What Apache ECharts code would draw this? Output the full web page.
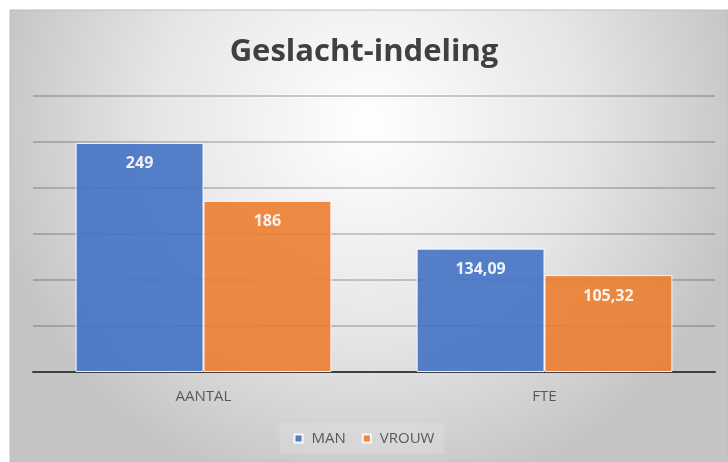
<!DOCTYPE html>
<html>
<head>
<meta charset="utf-8">
<script src="https://cdn.jsdelivr.net/npm/echarts@6/dist/echarts.min.js"></script>
<style>
  html, body { margin: 0; padding: 0; background: #fff; }
  #chart { width: 728px; height: 462px; }
</style>
</head>
<body>
<div id="chart"></div>
<script>
  // data
  var categories = ['AANTAL', 'FTE'];
  var manValues = [249, 134.09];
  var vrouwValues = [186, 105.32];
  var seriesNames = ['MAN', 'VROUW'];

  var blue = '#4472C4';
  var orange = '#ED7D31';
  var textGray = '#595959';

  // Dutch decimal comma
  function fmt(p) {
    return String(p.value).replace('.', ',');
  }

  var labelStyle = {
    show: true,
    position: 'insideTop',
    distance: 13,
    formatter: fmt,
    color: '#fff',
    fontWeight: 'bold',
    fontSize: 16,
    fontFamily: 'Open Sans'
  };

  var myChart = echarts.init(document.getElementById('chart'));

  myChart.setOption({
    animation: false,
    graphic: [
      {
        type: 'rect',
        z: -10,
        shape: { x: 10, y: 10, width: 718, height: 452 },
        style: {
          fill: new echarts.graphic.RadialGradient(0.5, 0.25, 0.85, [
            { offset: 0, color: '#ffffff' },
            { offset: 0.55, color: '#e6e6e6' },
            { offset: 1, color: '#c4c4c4' }
          ]),
          stroke: '#bdbdbd',
          lineWidth: 1
        }
      }
    ],
    title: {
      text: 'Geslacht-indeling',
      left: 'center',
      top: 32,
      textStyle: {
        fontFamily: 'Open Sans',
        fontWeight: 'bold',
        fontSize: 31,
        color: '#404040'
      }
    },
    legend: {
      data: seriesNames,
      bottom: 8,
      left: 'center',
      itemWidth: 8,
      itemHeight: 8,
      itemGap: 16,
      padding: [8, 10, 8, 14],
      backgroundColor: 'rgba(255,255,255,0.15)',
      icon: 'rect',
      textStyle: {
        color: textGray,
        fontSize: 15,
        fontFamily: 'Open Sans',
        padding: [0, 0, 0, 4]
      }
    },
    grid: {
      left: 33,
      right: 13,
      top: 96,
      bottom: 90
    },
    xAxis: {
      type: 'category',
      data: categories,
      axisLine: { lineStyle: { color: '#404040', width: 2 } },
      axisTick: { show: false },
      axisLabel: {
        color: textGray,
        fontSize: 15,
        fontFamily: 'Open Sans',
        margin: 17
      }
    },
    yAxis: {
      type: 'value',
      min: 0,
      max: 300,
      interval: 50,
      axisLabel: { show: false },
      axisLine: { show: false },
      axisTick: { show: false },
      splitLine: { lineStyle: { color: 'rgba(0,0,0,0.25)', width: 1.5 } }
    },
    series: [
      {
        name: seriesNames[0],
        type: 'bar',
        data: manValues,
        barGap: '0%',
        barCategoryGap: '25%',
        itemStyle: { color: blue, opacity: 0.9, borderColor: '#fff', borderWidth: 1 },
        label: labelStyle
      },
      {
        name: seriesNames[1],
        type: 'bar',
        data: vrouwValues,
        barGap: '0%',
        barCategoryGap: '25%',
        itemStyle: { color: orange, opacity: 0.9, borderColor: '#fff', borderWidth: 1 },
        label: labelStyle
      }
    ]
  });
</script>
</body>
</html>
